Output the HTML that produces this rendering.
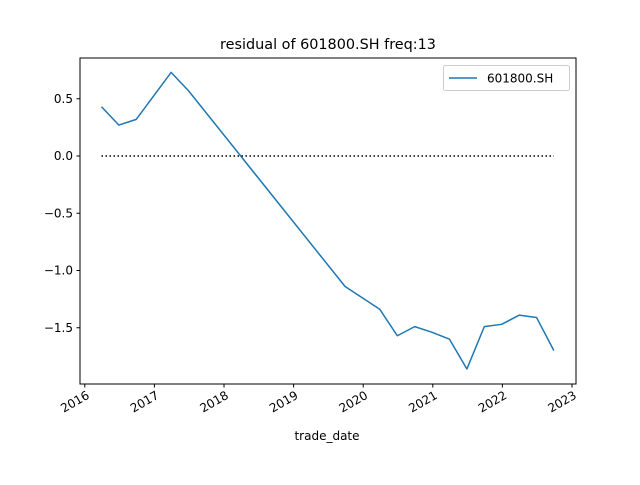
<!DOCTYPE html>
<html><head><meta charset="utf-8"><style>
body{margin:0;background:#fff;}
svg text{font-family:"DejaVu Sans","Liberation Sans",sans-serif;fill:#000;}
</style></head><body>
<svg id="chart" width="640" height="480" viewBox="0 0 640 480" xmlns="http://www.w3.org/2000/svg">
<rect width="640" height="480" fill="#fff"/>
<text x="328" y="49" font-size="14.4" text-anchor="middle">residual of 601800.SH freq:13</text>
<g id="plot"></g>
<rect x="80" y="58" width="496" height="326" fill="none" stroke="#000" stroke-width="1"/>
<text x="327" y="440" font-size="12" text-anchor="middle">trade_date</text>
<g>
<rect x="443.5" y="65.5" width="126" height="25" rx="2" fill="#fff" stroke="#ccc"/>
<line x1="449" y1="78" x2="477" y2="78" stroke="#1f77b4" stroke-width="1.5"/>
<text x="487" y="82.5" font-size="12">601800.SH</text>
</g>
</svg>
<script>
const dates=[2016.24,2016.49,2016.74,2017.24,2017.49,2019.74,2020.24,2020.49,2020.74,2020.99,2021.24,2021.49,2021.74,2021.99,2022.24,2022.49,2022.74];
const values=[0.43,0.27,0.32,0.73,0.57,-1.14,-1.34,-1.57,-1.49,-1.54,-1.60,-1.86,-1.49,-1.47,-1.39,-1.41,-1.70];
const yTicks=[0.5,0.0,-0.5,-1.0,-1.5];
const yTickLabels=["0.5","0.0","\u22120.5","\u22121.0","\u22121.5"];
const xTicks=[2016,2017,2018,2019,2020,2021,2022,2023];
const xTickLabels=["2016","2017","2018","2019","2020","2021","2022","2023"];
const NS="http://www.w3.org/2000/svg";
const g=document.getElementById('plot');
const xs=t=>84.8+69.6*(t-2016);
const ys=v=>156-114.5*v;
function mk(tag,attrs){const e=document.createElementNS(NS,tag);for(const k in attrs)e.setAttribute(k,attrs[k]);g.appendChild(e);return e;}
yTicks.forEach((v,i)=>{
 const t=mk('line',{x1:76.5,x2:80,y1:ys(v),y2:ys(v),stroke:'#000'});
 
 
 const l=mk('text',{x:73,y:ys(v)+4,'font-size':12,'text-anchor':'end'});
 l.textContent=yTickLabels[i];
 
 
});
xTicks.forEach((v,i)=>{
 const x=xs(v);
 const t=mk('line',{x1:x,x2:x,y1:384,y2:387.5,stroke:'#000'});
 
 
 const l=mk('text',{x:x+1,y:390,'font-size':12,'text-anchor':'end','dominant-baseline':'hanging',transform:`rotate(-30 ${x+1} 390)`});
 l.textContent=xTickLabels[i];
 
 
});
const z=mk('line',{x1:xs(dates[0]),x2:xs(dates[dates.length-1]),y1:ys(0),y2:ys(0),stroke:'#000','stroke-width':1.5,'stroke-dasharray':'1.5,2.5'});


const p=mk('polyline',{points:dates.map((d,i)=>xs(d)+','+ys(values[i])).join(' '),fill:'none',stroke:'#1f77b4','stroke-width':1.5,'stroke-linejoin':'round'});


</script>
</body></html>
